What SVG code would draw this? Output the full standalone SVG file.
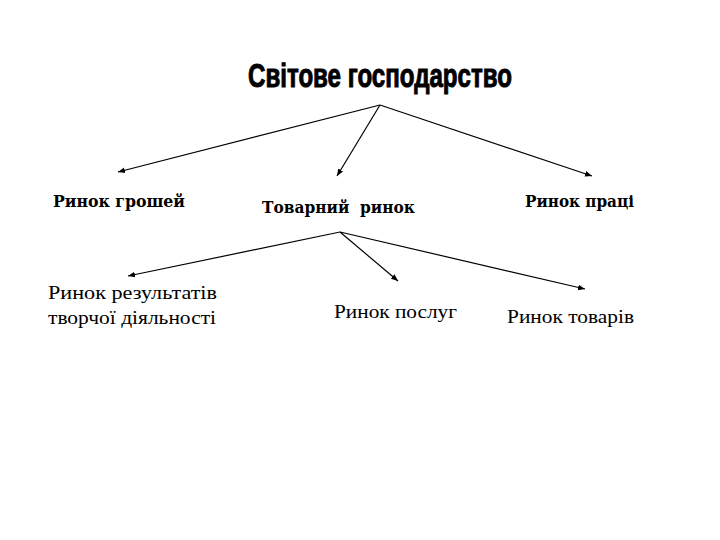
<svg xmlns="http://www.w3.org/2000/svg" width="720" height="540" viewBox="0 0 720 540">
<style>
.title{font-family:"Liberation Sans Narrow","Liberation Sans",Arial,sans-serif;font-weight:bold;font-size:34px;font-stretch:condensed;fill:#000;stroke:#000;stroke-width:1}
.b{font-family:"DejaVu Serif","Liberation Serif",serif;font-weight:bold;font-size:17px;fill:#000;white-space:pre}
.r{font-family:"Liberation Serif","DejaVu Serif",serif;font-size:19px;fill:#000}
.c{stroke:#000;stroke-width:1.2;fill:none;marker-end:url(#ah)}
</style>
<defs>
<marker id="ah" viewBox="0 0 10 10" refX="10" refY="5" markerWidth="7" markerHeight="7" markerUnits="userSpaceOnUse" orient="auto">
<path d="M0,1 L10,5 L0,9 Z" fill="#000"/>
</marker>
</defs>
<rect width="720" height="540" fill="#fff"/>
<g id="connectors">
<line class="c" x1="380" y1="105" x2="118" y2="172"/>
<line class="c" x1="380" y1="105" x2="337" y2="176"/>
<line class="c" x1="380" y1="105" x2="592" y2="176"/>
<line class="c" x1="340" y1="232" x2="128" y2="276"/>
<line class="c" x1="340" y1="232" x2="398" y2="281"/>
<line class="c" x1="340" y1="232" x2="585" y2="289"/>
</g>
<g id="n-world"><text class="title" x="248" y="87" textLength="264" lengthAdjust="spacingAndGlyphs">Світове господарство</text></g>
<g id="n-money"><text class="b" x="53" y="207" textLength="132" lengthAdjust="spacingAndGlyphs">Ринок грошей</text></g>
<g id="n-goods-market"><text class="b" x="262" y="213" textLength="153" lengthAdjust="spacingAndGlyphs" xml:space="preserve">Товарний  ринок</text></g>
<g id="n-labour"><text class="b" x="525" y="207" textLength="109" lengthAdjust="spacingAndGlyphs">Ринок праці</text></g>
<g id="n-creative"><text class="r" x="48" y="299" textLength="169" lengthAdjust="spacingAndGlyphs">Ринок результатів</text><text class="r" x="48" y="324" textLength="168" lengthAdjust="spacingAndGlyphs">творчої діяльності</text></g>
<g id="n-services"><text class="r" x="334" y="318" textLength="123" lengthAdjust="spacingAndGlyphs">Ринок послуг</text></g>
<g id="n-goods"><text class="r" x="507" y="323" textLength="127" lengthAdjust="spacingAndGlyphs">Ринок товарів</text></g>
</svg>
